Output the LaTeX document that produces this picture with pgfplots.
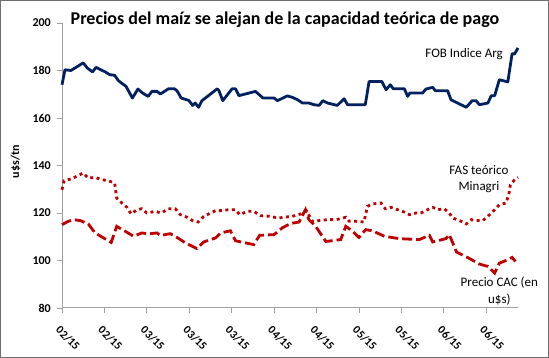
\documentclass[border=0pt]{standalone}
\usepackage{fontspec}
\setmainfont{Carlito}
\usepackage{pgfplots}
\pgfplotsset{compat=1.18}
\definecolor{navy}{RGB}{0,32,96}
\definecolor{cred}{RGB}{192,0,0}
\definecolor{axgray}{RGB}{160,160,160}
\definecolor{framegray}{RGB}{110,110,110}
\begin{document}
\begin{tikzpicture}[x=1pt,y=1pt]
\path[use as bounding box] (0,0) rectangle (549,358);
\draw[framegray, line width=1.3pt] (0.65,0.65) rectangle (548.35,357.35);
\begin{axis}[
  at={(62pt,50pt)}, anchor=south west,
  scale only axis, width=456pt, height=285pt,
  xmin=0, xmax=107.5, ymin=80, ymax=200,
  clip=false,
  axis x line*=bottom, axis y line*=left,
  axis line style={axgray, line width=1pt, -},
  tick align=outside, major tick length=5pt,
  tick style={axgray, line width=0.8pt},
  xtick={0,10,...,100},
  xticklabels={02/15,02/15,03/15,03/15,03/15,04/15,04/15,05/15,05/15,06/15,06/15},
  ytick={80,100,...,200},
  /pgf/number format/assume math mode=true,
  yticklabel style={font=\bfseries\fontsize{12}{14}\selectfont, inner sep=0pt, xshift=-6pt},
  xticklabel style={font=\bfseries\fontsize{11.5}{13}\selectfont, yshift=-12pt, xshift=-1pt, rotate=-45, anchor=north west, inner sep=0pt},
]
\addplot[navy, line width=2.8pt, line join=round] coordinates {
(0,174)(0.7,180.3)(2.1,180)(5.0,183.2)(6.0,181)(7.2,179.4)(8.0,181.3)(10.2,179.4)(11.3,178.2)(12.4,178)(13.3,175.7)(15.1,173.3)(16.6,168.4)(17.9,172.2)(19.0,170.5)(20.3,169.1)(21.2,171.2)(22.4,171.2)(23.2,170.1)(25.1,172.3)(26.5,172.3)(27.1,171.5)(28.1,168.4)(29.9,167.4)(30.8,165.3)(31.4,166.3)(32.2,164.5)(33.0,167.3)(36.6,172.3)(37.0,171.5)(37.9,167.3)(40.1,172.3)(40.9,172.3)(41.7,169.4)(45.6,171.2)(47.4,168.4)(50.0,168.4)(50.8,167.3)(53.1,169.3)(54.3,168.7)(55.5,167.7)(56.7,166.3)(58.2,166.3)(59.4,165.6)(60.6,165.3)(61.5,167.3)(62.6,166.3)(64.9,165.3)(66.5,168.1)(67.3,165.6)(71.5,165.6)(72.4,175.4)(75.4,175.4)(76.4,171.9)(77.4,174)(78.1,172.3)(80.7,172.3)(81.5,169.1)(82.0,170.5)(85.0,170.5)(85.8,172.2)(87.4,172.9)(88.0,171.5)(90.9,171.5)(91.7,167.7)(95.3,164.5)(96.7,167.3)(97.6,167.3)(98.4,165.6)(100.4,166.3)(101.2,169.4)(102.0,169.4)(103.1,176.1)(105.1,175.2)(106.1,187)(106.7,187)(107.5,189.5)
};
\addplot[cred, line width=2.8pt, dash pattern=on 3pt off 3.5pt] coordinates {
(0,129.8)(0.5,133.6)(2.3,134.4)(3.7,135.7)(5.0,136.8)(6.2,134.7)(7.8,135)(9.4,134)(10.9,133.6)(12.4,132.6)(12.9,126.3)(14.1,124.2)(15.3,122.4)(16.3,119.6)(17.7,121.4)(18.8,121.8)(20.0,120)(22.0,120.7)(23.4,120)(25.1,121.8)(26.7,121.8)(27.9,119.3)(29.5,118.2)(30.8,116.8)(32.1,116.2)(33.4,118.6)(35.0,120)(36.2,121)(37.8,121)(39.3,121.4)(40.9,121.4)(41.9,119.3)(43.7,120.7)(45.2,120.7)(46.8,118.9)(48.8,118.6)(51.1,117.9)(52.7,118.3)(54.3,118.6)(56.3,119.6)(57.6,121)(58.6,117.9)(59.0,116.5)(60.6,116.8)(62.6,117.2)(64.5,117.2)(65.7,117.6)(66.9,118.2)(67.7,116.5)(69.3,116.5)(71.2,116.2)(72.0,122.8)(73.2,123.8)(75.2,124.2)(76.2,121.8)(77.5,122.4)(79.1,121.4)(80.7,120.4)(81.9,119.3)(83.5,120)(84.6,120)(86.2,121.4)(87.4,122.4)(88.6,121.4)(90.1,121.8)(91.3,120)(92.1,117.9)(94.1,116.5)(95.3,115.4)(96.5,117.2)(97.6,116.8)(99.2,116.8)(100.4,118.6)(102.0,121.4)(103.1,123.5)(104.7,124.2)(105.4,128.4)(105.7,131.9)(106.7,134)(107.5,135)
};
\addplot[cred, line width=2.8pt, dash pattern=on 10pt off 4pt] coordinates {
(0,115.1)(1.5,116.5)(2.7,117.2)(4.3,116.8)(6.2,115.4)(7.8,111.6)(9.8,109.5)(11.6,107.6)(12.9,114.4)(14.9,112.3)(16.9,110.2)(18.8,111.6)(20.4,111.2)(22.4,111.6)(23.2,110.5)(25.5,111.3)(26.7,110.2)(29.1,107.4)(31.8,105)(33.4,107.8)(36.2,109.5)(37.4,111.6)(39.7,112.5)(40.9,108.3)(43.3,107.4)(45.2,106.7)(46.6,110.6)(50.0,110.9)(51.9,113.7)(53.9,115.6)(55.9,116.2)(57.4,121.4)(58.2,117.2)(59.8,114.4)(62.2,108)(65.7,108.8)(66.9,114.4)(68.5,112.3)(70.0,109.7)(71.6,113)(73.2,112.5)(76.0,110.2)(79.5,109.2)(84.2,108.8)(86.6,110.6)(87.4,107.8)(90.5,109.2)(91.3,110.9)(93.0,103.6)(96.1,100.8)(98.4,98.5)(100.4,97.5)(102.0,94.7)(103.1,98.9)(105.1,100.3)(106.1,101.3)(106.9,99.6)
};
\node[font=\fontsize{13}{15}\selectfont, text=black] at (axis cs:94.8,186.9) {FOB Indice Arg};
\node[font=\fontsize{13}{16.5}\selectfont, text=black, align=center] at (axis cs:98.3,134.2) {FAS teórico\\Minagri};
\node[font=\fontsize{13}{16.5}\selectfont, text=black, align=center] at (axis cs:103.1,87.0) {Precio CAC (en\\u\$s)};
\end{axis}
\node[font=\bfseries\fontsize{18}{21}\selectfont] at (285,338) {Precios del maíz se alejan de la capacidad teórica de pago};
\node[font=\bfseries\fontsize{12}{14}\selectfont, rotate=90] at (15.5,196.5) {u\$s/tn};
\end{tikzpicture}
\end{document}
